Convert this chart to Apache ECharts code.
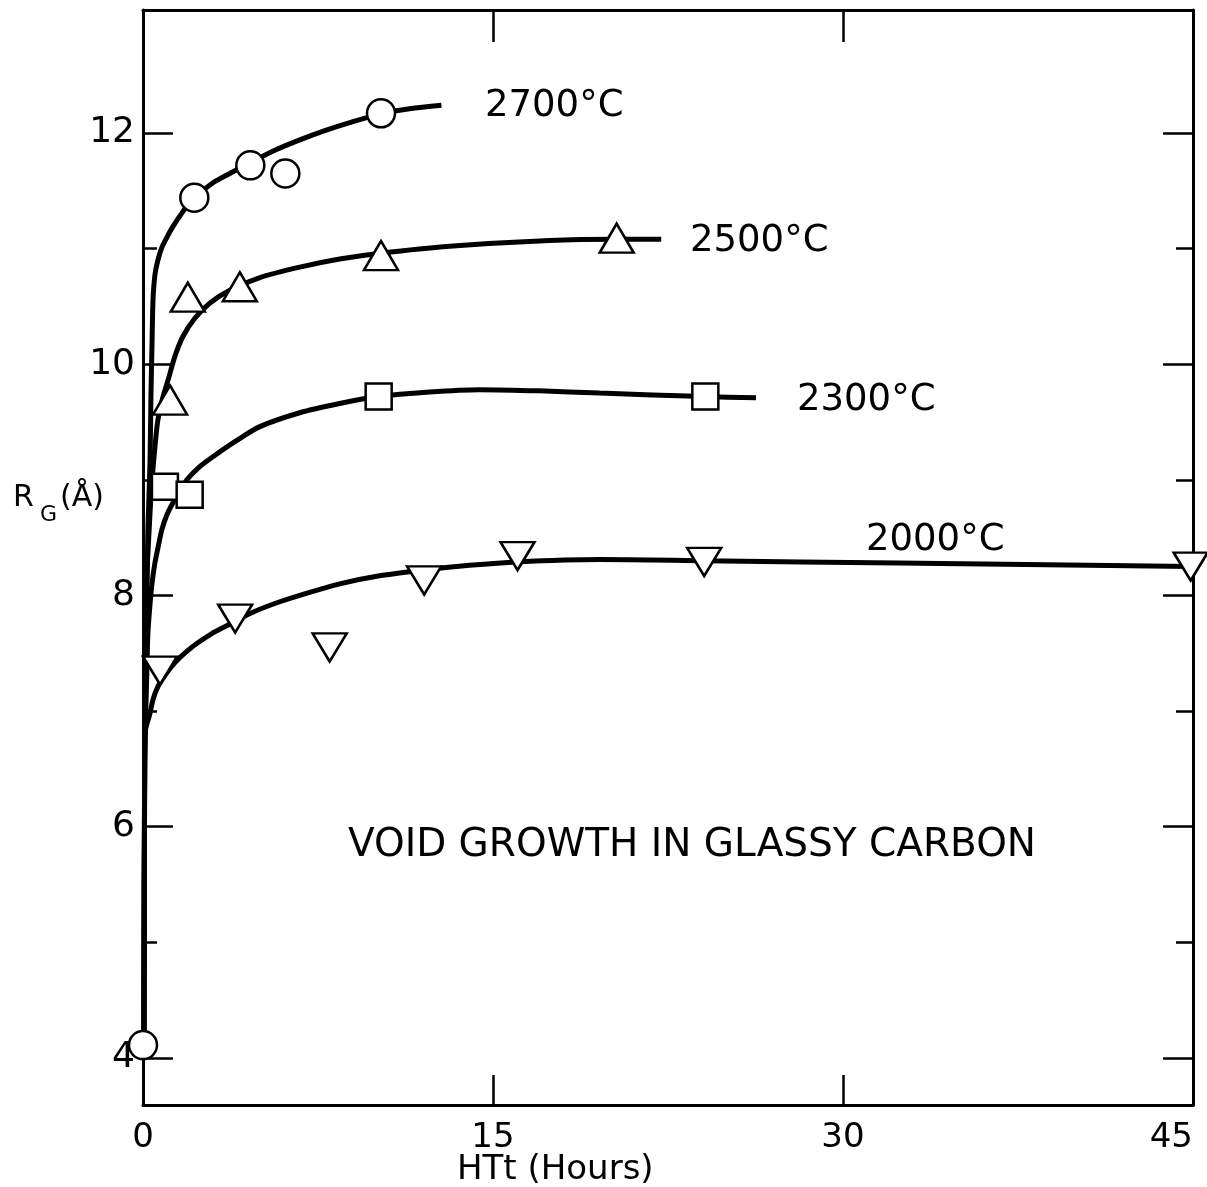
<!DOCTYPE html>
<html>
<head>
<meta charset="utf-8">
<title>Void growth in glassy carbon</title>
<script src="https://cdn.jsdelivr.net/npm/echarts/dist/echarts.min.js"></script>
<style>
  html, body { margin: 0; padding: 0; background: #fff; }
  #main { width: 1207px; height: 1187px; }
</style>
</head>
<body>
<div id="main"></div>
<script>
// 测量点 (HTt 小时, RG 埃)
var pts2700 = [[0, 4.11], [2.2, 11.44], [4.6, 11.72], [6.1, 11.65], [10.2, 12.17]];
var pts2500 = [[1.16, 9.69], [1.92, 10.58], [4.15, 10.67], [10.2, 10.94], [20.3, 11.09]];
var pts2300 = [[0.94, 8.94], [2.0, 8.87], [10.1, 9.72], [24.1, 9.72]];
var pts2000 = [[0.73, 7.35], [3.95, 7.8], [8.0, 7.55], [12.05, 8.13], [16.05, 8.34], [24.05, 8.29], [44.9, 8.25]];

// 手绘的拟合曲线 (从图上读的点)
var curve2700 = [[0.04, 4.2], [0.07, 6.5], [0.09, 7.53], [0.17, 8.05], [0.21, 8.57], [0.3, 9.15], [0.34, 9.72],
  [0.39, 10.21], [0.43, 10.56], [0.51, 10.77], [0.64, 10.9], [0.81, 11.01], [1.03, 11.1], [1.28, 11.19],
  [1.71, 11.32], [2.14, 11.43], [3.0, 11.57], [3.72, 11.65], [4.58, 11.74], [5.65, 11.85], [6.72, 11.94],
  [7.79, 12.02], [8.86, 12.09], [10.27, 12.17], [11.42, 12.21], [12.79, 12.24]];
var curve2500 = [[0.04, 4.2], [0.07, 6.5], [0.13, 7.96], [0.3, 8.71], [0.39, 9.0], [0.51, 9.28], [0.64, 9.52],
  [0.86, 9.72], [1.07, 9.86], [1.37, 10.07], [1.71, 10.24], [2.23, 10.4], [2.87, 10.53], [3.72, 10.64],
  [5.01, 10.75], [6.72, 10.84], [8.43, 10.91], [10.18, 10.96], [13.14, 11.02], [17.42, 11.07],
  [20.33, 11.08], [22.21, 11.08]];
var curve2300 = [[0.04, 4.2], [0.07, 6.5], [0.17, 7.38], [0.21, 7.67], [0.3, 7.92], [0.39, 8.11], [0.51, 8.28],
  [0.64, 8.41], [0.81, 8.57], [1.03, 8.7], [1.28, 8.8], [1.58, 8.9], [1.88, 9.0], [2.35, 9.1], [3.0, 9.2],
  [3.94, 9.33], [5.01, 9.46], [6.72, 9.58], [8.43, 9.66], [10.06, 9.72], [12.28, 9.76], [14.42, 9.78],
  [16.99, 9.77], [19.56, 9.75], [24.09, 9.72], [26.27, 9.71]];
var curve2000 = [[0.04, 4.2], [0.07, 6.3], [0.09, 6.81], [0.3, 6.98], [0.43, 7.1], [0.64, 7.21], [0.98, 7.32],
  [1.37, 7.42], [1.84, 7.51], [2.35, 7.59], [2.95, 7.67], [3.51, 7.73], [4.66, 7.85], [5.65, 7.93],
  [6.72, 8.0], [8.43, 8.1], [10.14, 8.17], [12.07, 8.22], [13.99, 8.26], [16.05, 8.29], [19.56, 8.31],
  [24.05, 8.3], [32.39, 8.28], [44.93, 8.25]];

var xLabels = [0, 15, 30, 45];
var yMajor = [4, 6, 8, 10, 12];
var yMinor = [5, 7, 9, 11];
var xInnerTicks = [15, 30];
var tempNames = ['2700°C', '2500°C', '2300°C', '2000°C'];

var FONT = 'DejaVu Sans';
var yMin = 3.592, yMax = 13.064;

function curveSeries(name, data) {
  return {
    name: name, type: 'line', data: data, smooth: 0.3, showSymbol: false, z: 2,
    lineStyle: { color: '#000', width: 5 }
  };
}
function pointSeries(name, data, symbol, size, rotate) {
  return {
    name: name, type: 'scatter', data: data, symbol: symbol, symbolSize: size, symbolRotate: rotate || 0, z: 3,
    itemStyle: { color: '#fff', borderColor: '#000', borderWidth: 2.5, opacity: 1 }
  };
}
function yAx(pos, ticks, len, showLine, showLabel) {
  return {
    type: 'value', position: pos, min: yMin, max: yMax,
    axisLine: { show: showLine, lineStyle: { color: '#000', width: 3 } },
    axisTick: { show: true, inside: true, length: len, customValues: ticks, lineStyle: { color: '#000', width: 2.5 } },
    axisLabel: { show: showLabel, customValues: ticks, color: '#000', fontSize: 36, fontFamily: FONT, margin: 8 },
    splitLine: { show: false }
  };
}
// 文字, y 是字的中线
function textEl(x, y, str, size) {
  return {
    type: 'text', left: x, top: y - size * 0.6 + 7,
    style: { text: str, fill: '#000', font: size + 'px "' + FONT + '"' }
  };
}

var chart = echarts.init(document.getElementById('main'));
chart.setOption({
  backgroundColor: '#fff',
  animation: false,
  grid: { left: 143, right: 14, top: 10, bottom: 82, containLabel: false, outerBoundsMode: 'none' },
  xAxis: [
    {
      type: 'value', position: 'bottom', min: 0, max: 45, interval: 15,
      axisLine: { lineStyle: { color: '#000', width: 3 } },
      axisTick: { inside: true, length: 30, customValues: xInnerTicks, lineStyle: { color: '#000', width: 2.5 } },
      axisLabel: { customValues: xLabels, color: '#000', fontSize: 34, fontFamily: FONT, margin: 16, alignMaxLabel: 'right' },
      splitLine: { show: false }
    },
    {
      type: 'value', position: 'top', min: 0, max: 45, interval: 15,
      axisLine: { lineStyle: { color: '#000', width: 3 } },
      axisTick: { inside: true, length: 32, customValues: xInnerTicks, lineStyle: { color: '#000', width: 2.5 } },
      axisLabel: { show: false },
      splitLine: { show: false }
    }
  ],
  yAxis: [
    yAx('left', yMajor, 30, true, true),
    yAx('left', yMinor, 14, false, false),
    yAx('right', yMajor, 30, true, false),
    yAx('right', yMinor, 17, false, false)
  ],
  series: [
    curveSeries(tempNames[0], curve2700),
    curveSeries(tempNames[1], curve2500),
    curveSeries(tempNames[2], curve2300),
    curveSeries(tempNames[3], curve2000),
    pointSeries(tempNames[0], pts2700, 'circle', 28),
    pointSeries(tempNames[1], pts2500, 'triangle', [34, 29]),
    pointSeries(tempNames[2], pts2300, 'rect', 26),
    pointSeries(tempNames[3], pts2000, 'triangle', [34, 28], 180)
  ],
  graphic: [
    textEl(485, 103, tempNames[0], 37),
    textEl(690, 238, tempNames[1], 37),
    textEl(797, 397, tempNames[2], 37),
    textEl(866, 537, tempNames[3], 37),
    textEl(348, 843, 'VOID GROWTH IN GLASSY CARBON', 39),
    // x 轴名称
    textEl(457, 1167, 'HTt (Hours)', 34),
    // R_G(Å)
    textEl(13, 494, 'R', 30),
    textEl(40, 510, 'G', 22),
    textEl(60, 494, '(Å)', 30)
  ]
});
</script>
</body>
</html>
